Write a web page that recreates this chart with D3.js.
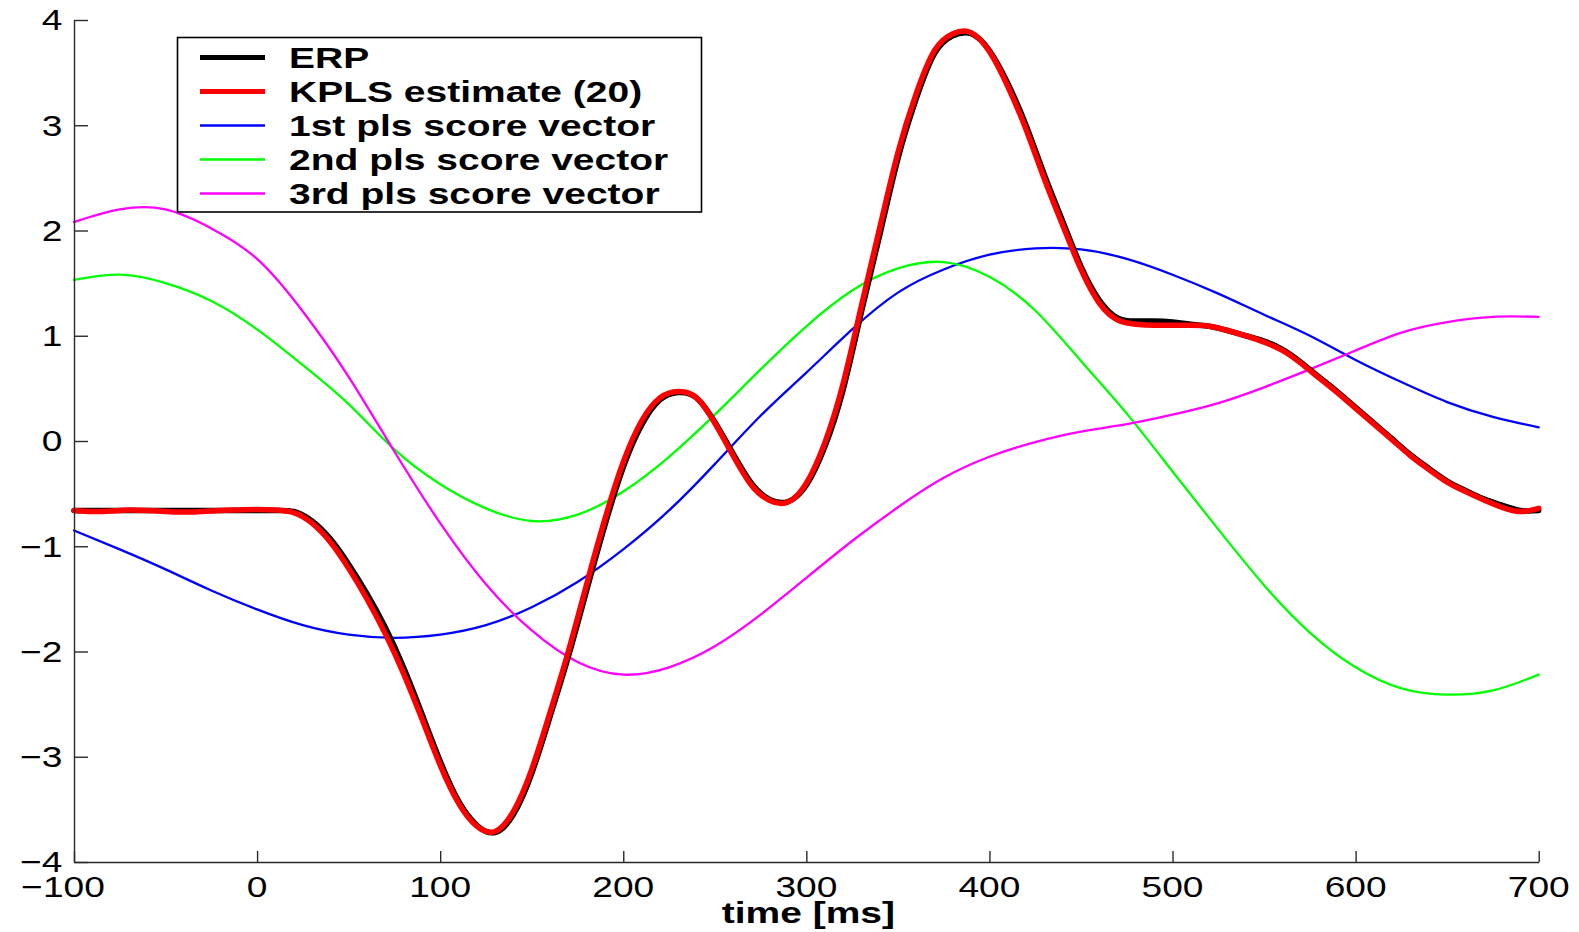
<!DOCTYPE html>
<html>
<head>
<meta charset="utf-8">
<script src="https://cdn.jsdelivr.net/npm/d3@7"></script>
<style>
  html, body { margin: 0; padding: 0; background: #fff; }
  svg { display: block; }
</style>
</head>
<body>
<svg id="chart" width="1579" height="932"></svg>
<script>
// ---- data -------------------------------------------------------------
// fine time grid (ms) for the ERP and its KPLS reconstruction
const timeFine = [-100,-90,-80,-70,-60,-50,-40,-30,-20,-10,0,10,20,30,40,50,60,70,80,90,
  100,110,120,130,140,150,160,170,180,190,200,210,220,230,240,250,260,270,280,290,
  300,310,320,330,340,350,360,370,380,390,400,410,420,430,440,450,460,470,480,490,
  500,510,520,530,540,550,560,570,580,590,600,610,620,630,640,650,660,670,680,690,700];

const erpValues = [-0.66,-0.66,-0.66,-0.66,-0.66,-0.66,-0.66,-0.66,-0.66,-0.66,
  -0.66,-0.66,-0.67,-0.76,-0.93,-1.17,-1.45,-1.77,-2.15,-2.59,
  -3.04,-3.42,-3.65,-3.72,-3.55,-3.16,-2.62,-2.05,-1.42,-0.80,
  -0.25,0.15,0.39,0.46,0.41,0.18,-0.12,-0.40,-0.555,-0.575,
  -0.42,-0.06,0.48,1.22,1.95,2.68,3.25,3.68,3.85,3.87,
  3.71,3.40,3.00,2.53,2.09,1.66,1.34,1.17,1.14,1.14,
  1.13,1.11,1.09,1.05,1.00,0.95,0.87,0.75,0.61,0.47,
  0.32,0.17,0.02,-0.13,-0.26,-0.38,-0.47,-0.55,-0.61,-0.66,-0.66];

const kplsValues = [-0.66,-0.67,-0.665,-0.655,-0.66,-0.67,-0.675,-0.67,-0.66,-0.655,
  -0.65,-0.655,-0.68,-0.78,-0.96,-1.21,-1.50,-1.83,-2.21,-2.64,
  -3.08,-3.44,-3.66,-3.71,-3.52,-3.12,-2.58,-2.00,-1.36,-0.74,
  -0.20,0.19,0.41,0.47,0.41,0.17,-0.14,-0.42,-0.565,-0.58,
  -0.40,-0.02,0.54,1.28,2.02,2.74,3.30,3.71,3.87,3.88,
  3.70,3.37,2.96,2.49,2.05,1.63,1.31,1.15,1.11,1.10,
  1.10,1.10,1.09,1.05,1.00,0.94,0.86,0.74,0.60,0.46,
  0.31,0.16,0.01,-0.14,-0.27,-0.39,-0.48,-0.56,-0.63,-0.67,-0.64];

// coarse time grid (ms) for the smooth score vectors
const timeCoarse = [-100,-75,-50,-25,0,25,50,75,100,125,150,175,200,225,250,275,300,
  325,350,375,400,425,450,475,500,525,550,575,600,625,650,675,700];

const score1 = [-0.85,-1.03,-1.22,-1.42,-1.60,-1.75,-1.84,-1.87,-1.84,-1.75,-1.58,-1.34,
  -1.03,-0.66,-0.22,0.24,0.65,1.06,1.41,1.63,1.77,1.83,1.82,1.73,1.58,1.40,1.20,1.00,
  0.77,0.56,0.37,0.23,0.13];

const score2 = [1.53,1.58,1.50,1.33,1.06,0.72,0.35,-0.08,-0.41,-0.64,-0.76,-0.70,
  -0.48,-0.15,0.25,0.68,1.09,1.43,1.64,1.70,1.56,1.24,0.76,0.26,-0.29,-0.84,-1.37,-1.82,
  -2.15,-2.35,-2.41,-2.37,-2.22];

const score3 = [2.08,2.20,2.20,2.02,1.73,1.23,0.61,-0.10,-0.78,-1.36,-1.80,-2.10,
  -2.22,-2.15,-1.95,-1.65,-1.30,-0.95,-0.63,-0.35,-0.15,-0.01,0.09,0.16,0.25,0.36,0.51,
  0.68,0.86,1.03,1.13,1.18,1.18];

const xTickValues = [-100,0,100,200,300,400,500,600,700];
const yTickValues = [-4,-3,-2,-1,0,1,2,3,4];

const legendLabels = ["ERP","KPLS estimate (20)","1st pls score vector","2nd pls score vector","3rd pls score vector"];
const seriesColors = ["#000000","#ff0000","#0000ff","#00ff00","#ff00ff"];
const xAxisTitle = "time [ms]";

// ---- layout -----------------------------------------------------------
const svg = d3.select("#chart");
const plot = { left: 74, right: 1538.7, top: 20, bottom: 862 };
const STRETCH = 1.28;           // wide lettering of tick labels
const STRETCH_BOLD = 1.30;      // wide lettering of legend / title
const FONT = "'Liberation Sans', Arial, Helvetica, sans-serif";

const x = d3.scaleLinear().domain([-100, 700]).range([plot.left, plot.right]);
const y = d3.scaleLinear().domain([-4, 4]).range([plot.bottom, plot.top]);

// ---- curves -----------------------------------------------------------
const smoothLine = d3.line().x(d => x(d[0])).y(d => y(d[1])).curve(d3.curveNatural);
const zip = (ts, vs) => ts.map((t, i) => [t, vs[i]]);

const series = [
  { pts: zip(timeFine, erpValues),  color: seriesColors[0], w: 5.5 },
  { pts: zip(timeFine, kplsValues), color: seriesColors[1], w: 5.5 },
  { pts: zip(timeCoarse, score1),   color: seriesColors[2], w: 2.3 },
  { pts: zip(timeCoarse, score2),   color: seriesColors[3], w: 2.3 },
  { pts: zip(timeCoarse, score3),   color: seriesColors[4], w: 2.3 }
];
// thin score vectors underneath, then ERP and the estimate on top
const drawOrder = [2, 3, 4, 0, 1];
svg.append("g").selectAll("path")
  .data(drawOrder.map(i => series[i]))
  .join("path")
  .attr("d", d => smoothLine(d.pts))
  .attr("fill", "none")
  .attr("stroke", d => d.color)
  .attr("stroke-width", d => d.w)
  .attr("stroke-linejoin", "round")
  .attr("stroke-linecap", "round");

// ---- axes (ticks pointing inward) -------------------------------------
const axisColor = "#2a2a2a";
const gx = svg.append("g").attr("transform", `translate(0,${plot.bottom})`)
  .call(d3.axisBottom(x).tickValues(xTickValues).tickSizeInner(-11).tickSizeOuter(0).tickFormat(""));
const gy = svg.append("g").attr("transform", `translate(${plot.left},0)`)
  .call(d3.axisLeft(y).tickValues(yTickValues).tickSizeInner(-14).tickSizeOuter(0).tickFormat(""));
[gx, gy].forEach(g => {
  g.selectAll("path.domain").attr("stroke", axisColor).attr("stroke-width", 1.4);
  g.selectAll(".tick line").attr("stroke", axisColor).attr("stroke-width", 1.4);
});

const fmt = v => (v < 0 ? "\u2212" : "") + Math.abs(v);

// wide text helper: anchored at (px, py), stretched horizontally
function wideText(parent, px, py, str, opts) {
  return parent.append("text")
    .attr("transform", `translate(${px},${py}) scale(${opts.stretch || STRETCH},1)`)
    .attr("text-anchor", opts.anchor || "start")
    .attr("font-family", FONT)
    .attr("font-size", opts.size)
    .attr("font-weight", opts.weight || "normal")
    .attr("fill", "#000")
    .text(str);
}

const labels = svg.append("g");
yTickValues.forEach(v => {
  wideText(labels, 62.5, y(v) + 10.4, fmt(v), { anchor: "end", size: 29 });
});
xTickValues.forEach(v => {
  const shift = v < 0 ? -11 : 0;    // centre the digits, minus hangs left
  wideText(labels, x(v) + shift, 897, fmt(v), { anchor: "middle", size: 29 });
});
wideText(labels, (plot.left + plot.right) / 2 + 2, 923, xAxisTitle,
  { anchor: "middle", size: 30, weight: "bold", stretch: STRETCH_BOLD });

// ---- legend -----------------------------------------------------------
const legend = svg.append("g");
legend.append("rect")
  .attr("x", 177.5).attr("y", 37.5).attr("width", 524).attr("height", 174.5)
  .attr("fill", "#fff").attr("stroke", "#000").attr("stroke-width", 1.6);
legendLabels.forEach((lab, i) => {
  const cy = 57.5 + i * 34;
  legend.append("line")
    .attr("x1", 200).attr("x2", 265).attr("y1", cy).attr("y2", cy)
    .attr("stroke", seriesColors[i])
    .attr("stroke-width", i < 2 ? 5 : 2.5);
  wideText(legend, 289, cy + 10.8, lab, { size: 30, weight: "bold", stretch: STRETCH_BOLD });
});
</script>
</body>
</html>
